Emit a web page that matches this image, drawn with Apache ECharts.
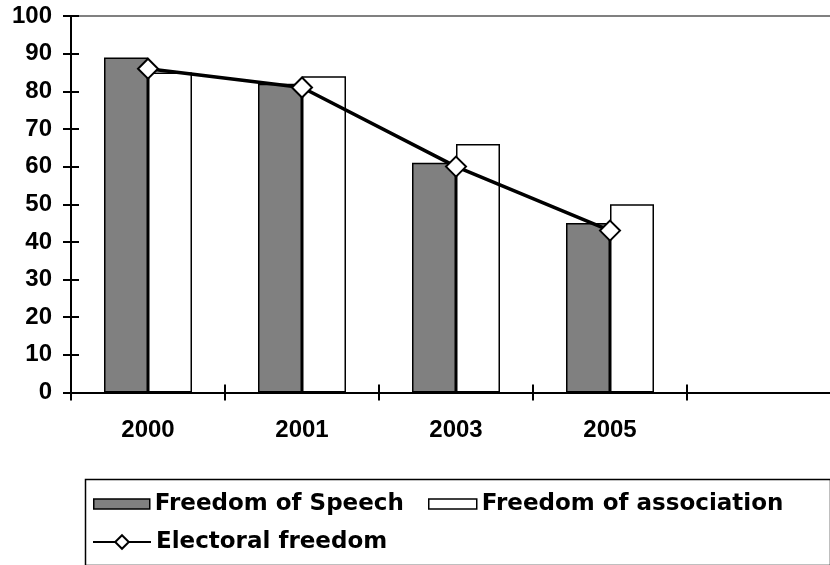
<!DOCTYPE html>
<html>
<head>
<meta charset="utf-8">
<script src="https://cdn.jsdelivr.net/npm/echarts@6/dist/echarts.min.js"></script>
<style>
html,body{margin:0;padding:0;background:#fff;overflow:hidden;width:830px;height:565px;}
#chart{width:842px;height:565px;}
</style>
</head>
<body>
<div id="chart"></div>
<script>
var categories = ['2000', '2001', '2003', '2005', ''];
var speech = [89, 82, 61, 45, null];
var association = [85, 84, 66, 50, null];
var electoral = [86, 81, 60, 43, null];
var yTicks = {min: 0, max: 100, interval: 10};

var chart = echarts.init(document.getElementById('chart'), null, {renderer: 'canvas'});
var labelFont = {fontFamily: 'Liberation Sans', fontWeight: 'bold', fontSize: 24, color: '#000'};
var legendText = {fontFamily: 'DejaVu Sans', fontWeight: 'bold', fontSize: 23, color: '#000', lineHeight: 26};
var gridBox = {left: 71, top: 16, right: 1, bottom: 172.5};

var option = {
  backgroundColor: '#fff',
  animation: false,
  grid: [
    Object.assign({containLabel: false}, gridBox),
    Object.assign({containLabel: false}, gridBox)
  ],
  xAxis: [
    {
      type: 'category', gridIndex: 0, data: categories, position: 'bottom',
      boundaryGap: true,
      axisLine: {lineStyle: {color: '#000', width: 2}},
      axisTick: {show: true, inside: false, length: 8, lineStyle: {color: '#000', width: 2}},
      axisLabel: Object.assign({margin: 26, interval: 0}, labelFont),
      splitLine: {show: false}
    },
    {
      type: 'category', gridIndex: 0, data: categories, position: 'top',
      axisLine: {lineStyle: {color: '#808080', width: 2}},
      axisTick: {show: false}, axisLabel: {show: false}, splitLine: {show: false}
    },
    {
      type: 'category', gridIndex: 1, data: categories, position: 'bottom',
      boundaryGap: true,
      axisLine: {show: false},
      axisTick: {show: true, inside: true, length: 8, lineStyle: {color: '#000', width: 2}},
      axisLabel: {show: false}, splitLine: {show: false}
    }
  ],
  yAxis: [
    {
      type: 'value', gridIndex: 0, min: yTicks.min, max: yTicks.max, interval: yTicks.interval,
      axisLine: {show: true, lineStyle: {color: '#000', width: 2}},
      axisTick: {show: true, inside: false, length: 8, lineStyle: {color: '#000', width: 2}},
      axisLabel: Object.assign({margin: 19}, labelFont),
      splitLine: {show: false}
    },
    {
      type: 'value', gridIndex: 1, min: yTicks.min, max: yTicks.max, interval: yTicks.interval,
      axisLine: {show: false},
      axisTick: {show: true, inside: true, length: 8, lineStyle: {color: '#000', width: 2}},
      axisLabel: {show: false}, splitLine: {show: false}
    }
  ],
  legend: [
    {
      data: [{name: 'Freedom of Speech', icon: 'rect'}], left: 93, top: 491, padding: 0,
      itemWidth: 56, itemHeight: 10, textStyle: legendText,
      itemStyle: {borderWidth: 1.5}
    },
    {
      data: [{name: 'Freedom of association', icon: 'rect'}], left: 428, top: 491, padding: 0,
      itemWidth: 48, itemHeight: 10, textStyle: legendText,
      itemStyle: {borderWidth: 1.5}
    },
    {
      data: ['Electoral freedom'], left: 92, top: 529, padding: 0,
      itemWidth: 58, itemHeight: 17, textStyle: legendText
    }
  ],
  graphic: [
    {
      type: 'rect', left: 83, top: 477, z: -1,
      shape: {width: 745, height: 86},
      style: {fill: 'none', stroke: '#000', lineWidth: 1.5}
    }
  ],
  series: [
    {
      name: 'Freedom of Speech', type: 'bar', xAxisIndex: 0, yAxisIndex: 0,
      data: speech, barWidth: 44, barGap: '0%',
      itemStyle: {color: '#808080', borderColor: '#000', borderWidth: 1.5}
    },
    {
      name: 'Freedom of association', type: 'bar', xAxisIndex: 0, yAxisIndex: 0,
      data: association, barWidth: 44, barGap: '0%',
      itemStyle: {color: '#fff', borderColor: '#000', borderWidth: 1.5}
    },
    {
      name: 'Electoral freedom', type: 'line', xAxisIndex: 0, yAxisIndex: 0,
      data: electoral, z: 5,
      symbol: 'diamond', symbolSize: 20,
      lineStyle: {color: '#000', width: 3.5},
      itemStyle: {color: '#fff', borderColor: '#000', borderWidth: 2}
    }
  ]
};
chart.setOption(option);
</script>
</body>
</html>
